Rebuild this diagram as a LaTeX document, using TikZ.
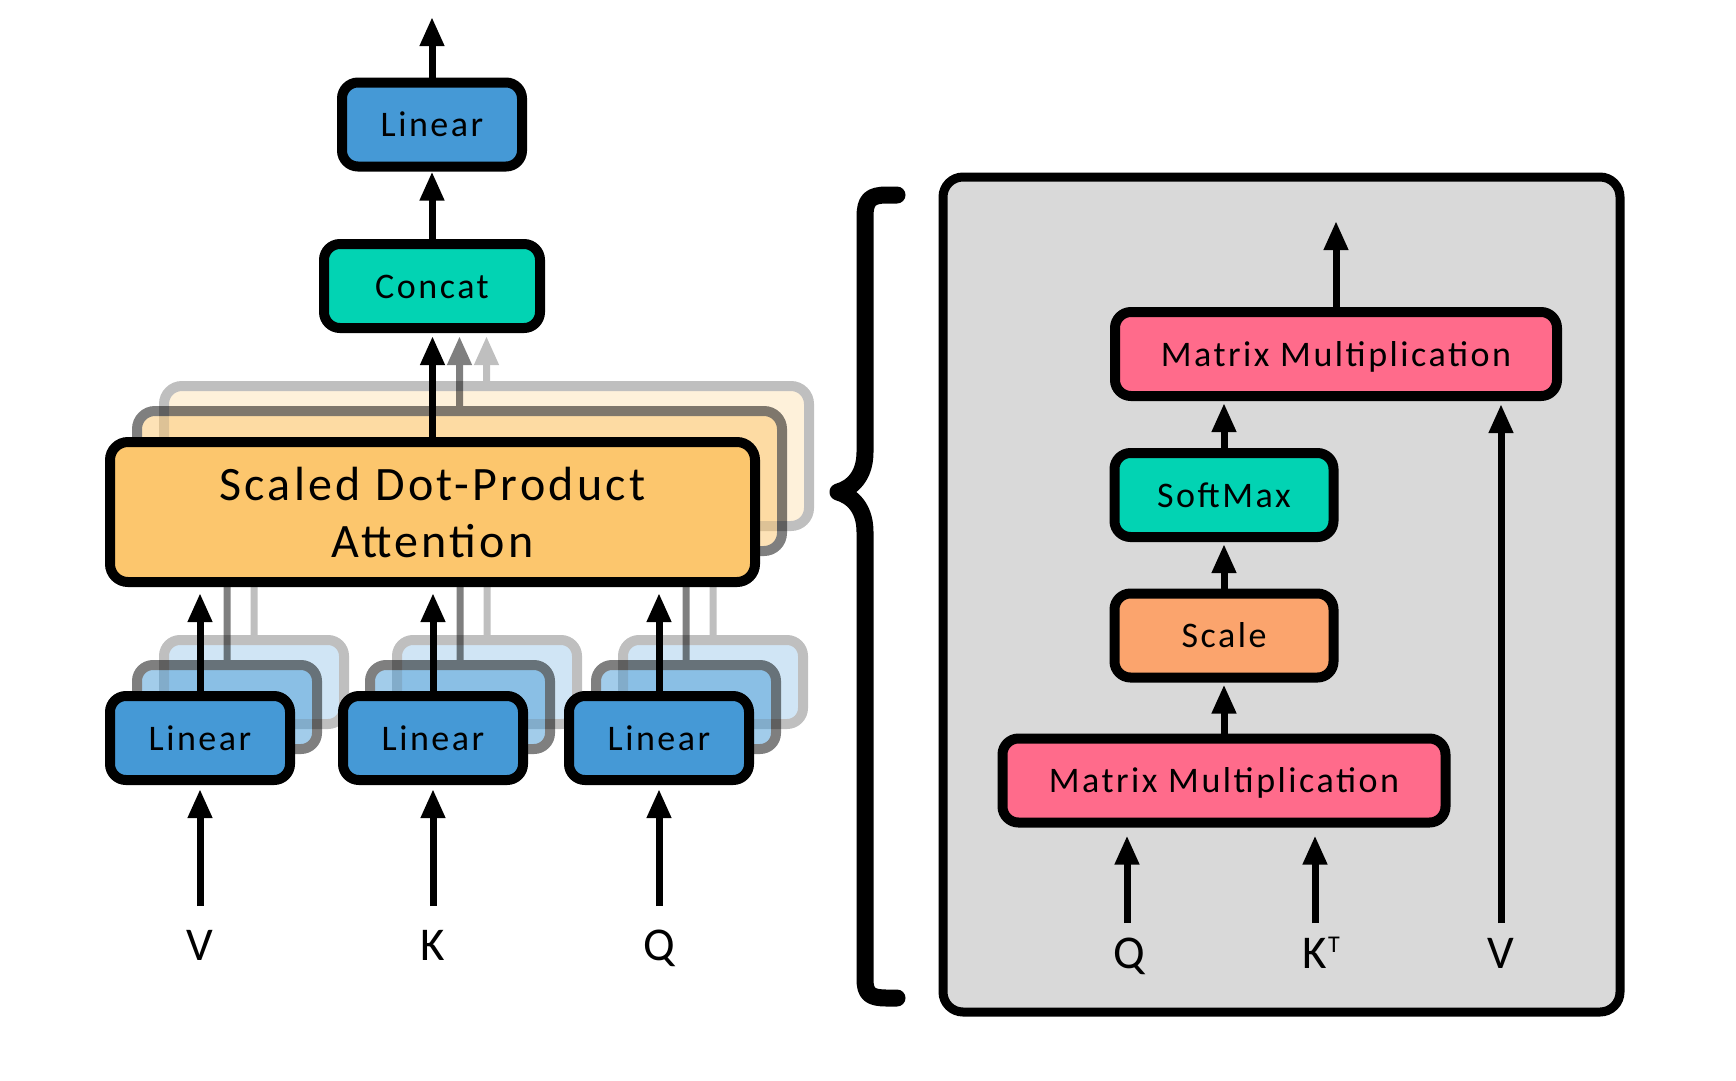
\documentclass[tikz,border=0pt]{standalone}
\usepackage{fontspec}
\setmainfont{Carlito}
\newfontfamily\boxfont[LetterSpace=7]{Carlito}
\usetikzlibrary{arrows.meta,calc}
\definecolor{linblue}{HTML}{4599D6}
\definecolor{tealc}{HTML}{02D3B3}
\definecolor{sdpaor}{HTML}{FCC66D}
\definecolor{scaleor}{HTML}{FBA46D}
\definecolor{mmpink}{HTML}{FF6B8B}
\definecolor{panelgray}{HTML}{D9D9D9}
\begin{document}
\begin{tikzpicture}[x=1pt,y=-1pt,
  blk/.style={draw=black, line width=10pt, rounded corners=16pt, minimum height=84pt,
    inner sep=0pt, font=\boxfont\fontsize{36}{43}\selectfont, text height=24pt, text depth=0pt},
  linbox/.style={blk, fill=linblue, minimum width=180pt},
  sdpabox/.style={draw=black, line width=10pt, rounded corners=18pt, fill=sdpaor,
    minimum width=645pt, minimum height=140pt, inner sep=0pt, align=center,
    font=\boxfont\fontsize{48}{57}\selectfont},
  arr/.style={line width=7pt, -{Triangle[width=23pt 0 0,length=29pt 0 0]}},
  lab/.style={font=\fontsize{47}{56}\selectfont, anchor=base, inner sep=0pt},
]
\useasboundingbox (0,0) rectangle (1736,1080);

% ---------- left: multi-head attention ----------
\node[linbox] (topLin) at (432,124.5) {Linear};
\node[blk, fill=tealc, minimum width=216pt] (concat) at (432,286) {Concat};
\coordinate (out1) at (432,17);
\draw[arr] (topLin.north) -- (out1);
\draw[arr] (concat.north) -- (topLin.south);

% ghost heads
\foreach \dx/\dy/\op in {54/-56/0.25, 27/-31/0.5}{
  \begin{scope}[transparency group, opacity=\op]
    \node[draw=black, line width=10pt, rounded corners=18pt, fill=sdpaor,
      minimum width=645pt, minimum height=140pt] (gs) at ($(432.5,512)+(\dx,\dy)$) {};
    \draw[arr, shorten >=3pt] (gs.north) -- (gs.north |- concat.south);
    \node[linbox] (g1) at ($(200,738)+(\dx,\dy)$) {};
    \node[linbox] (g2) at ($(433,738)+(\dx,\dy)$) {};
    \node[linbox] (g3) at ($(659,738)+(\dx,\dy)$) {};
    \draw[arr, shorten >=-10pt] (g1.north) -- (g1.north |- gs.south);
    \draw[arr, shorten >=-10pt] (g2.north) -- (g2.north |- gs.south);
    \draw[arr, shorten >=-10pt] (g3.north) -- (g3.north |- gs.south);
  \end{scope}
}

\node[sdpabox] (sdpa) at (432.5,512) {Scaled Dot-Product\\Attention};
\draw[arr, shorten >=3pt] (sdpa.north) -- (sdpa.north |- concat.south);

\node[linbox] (linV) at (200,738) {Linear};
\node[linbox] (linK) at (433,738) {Linear};
\node[linbox] (linQ) at (659,738) {Linear};
\draw[arr, shorten >=6pt] (linV.north) -- (linV.north |- sdpa.south);
\draw[arr, shorten >=6pt] (linK.north) -- (linK.north |- sdpa.south);
\draw[arr, shorten >=6pt] (linQ.north) -- (linQ.north |- sdpa.south);

\coordinate (vin) at (200,906);
\coordinate (kin) at (433,906);
\coordinate (qin) at (659,906);
\draw[arr, shorten >=4pt] (vin) -- (linV.south);
\draw[arr, shorten >=4pt] (kin) -- (linK.south);
\draw[arr, shorten >=4pt] (qin) -- (linQ.south);
\node[lab] (lV) at (200,960) {V};
\node[lab] (lK) at (433,960) {K};
\node[lab] (lQ) at (659,960) {Q};

% ---------- brace ----------
\draw[line width=17pt, line cap=round, line join=round]
  (897,195) -- (887,195) .. controls (870,195) and (865,200) .. (865,217)
  -- (865,452) .. controls (865,476) and (852,488) .. (838,492)
  .. controls (852,496) and (865,508) .. (865,532)
  -- (865,979) .. controls (865,994) and (870,998) .. (887,998) -- (897,998);

% ---------- right: scaled dot-product attention ----------
\node[draw=black, line width=9pt, rounded corners=20pt, fill=panelgray,
  minimum width=677pt, minimum height=835pt] (panel) at (1281.5,594.5) {};

\node[blk, fill=mmpink, minimum width=442pt] (mm2) at (1336,354) {Matrix Multiplication};
\node[blk, fill=tealc, minimum width=219pt] (soft) at (1224,495) {SoftMax};
\node[blk, fill=scaleor, minimum width=219pt] (scale) at (1224,635.5) {Scale};
\node[blk, fill=mmpink, minimum width=443pt] (mm1) at (1224,780.5) {Matrix Multiplication};

\coordinate (out2) at (1336,221);
\draw[arr] (mm2.north) -- (out2);
\draw[arr, shorten >=2pt] (soft.north) -- (soft.north |- mm2.south);
\draw[arr, shorten >=2pt] (scale.north) -- (soft.south);
\draw[arr, shorten >=2pt] (mm1.north) -- (scale.south);

\coordinate (qr) at (1127,923);
\coordinate (kr) at (1315,923);
\coordinate (vr) at (1501,923);
\draw[arr, shorten >=8pt] (qr) -- (qr |- mm1.south);
\draw[arr, shorten >=8pt] (kr) -- (kr |- mm1.south);
\draw[arr, shorten >=3pt] (vr) -- (vr |- mm2.south);
\node[lab] (rQ) at (1129,968) {Q};
\node[lab] (rK) at (1315,968) {K\rlap{\kern1pt\raisebox{16pt}{\fontsize{24}{24}\selectfont T}}};
\node[lab] (rV) at (1501,968) {V};
\end{tikzpicture}
\end{document}
